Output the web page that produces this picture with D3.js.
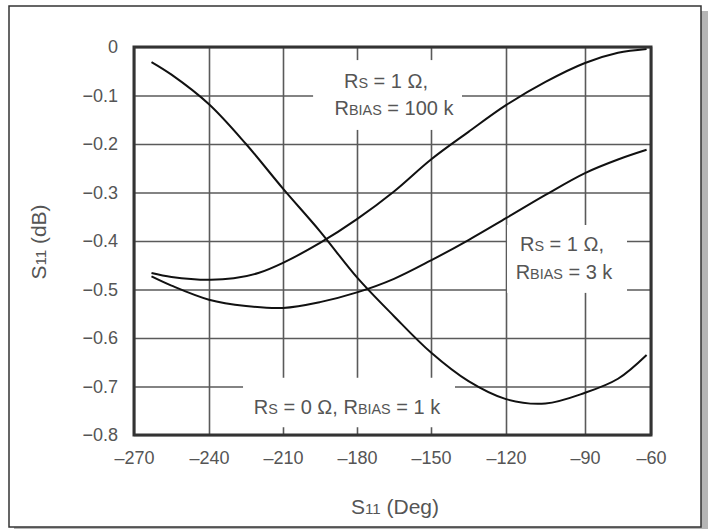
<!DOCTYPE html>
<html>
<head>
<meta charset="utf-8">
<script src="https://cdn.jsdelivr.net/npm/d3@7"></script>
<style>
  body { margin: 0; background: #fff; }
  text { font-family: "Liberation Sans", Arial, sans-serif; fill: #555; }
</style>
</head>
<body>
<div id="container"></div>
<script>
/* DATA */
const xTicks = [-270, -240, -210, -180, -150, -120, -90, -60];
const yTicks = [0, -0.1, -0.2, -0.3, -0.4, -0.5, -0.6, -0.7, -0.8];

// Rs = 0 ohm, Rbias = 1 k
const degA = [-263, -255, -240, -225, -210, -195, -180, -165, -150, -135, -120, -105, -90, -75, -62];
const valA = [-0.031, -0.057, -0.118, -0.2, -0.292, -0.38, -0.475, -0.555, -0.63, -0.689, -0.726, -0.735, -0.713, -0.684, -0.635];

// Rs = 1 ohm, Rbias = 100 k
const degB = [-263, -255, -240, -230, -220, -210, -195, -180, -165, -150, -135, -120, -105, -90, -75, -62];
const valB = [-0.466, -0.474, -0.48, -0.477, -0.466, -0.445, -0.404, -0.355, -0.298, -0.232, -0.175, -0.12, -0.072, -0.033, -0.012, -0.004];

// Rs = 1 ohm, Rbias = 3 k
const degC = [-263, -255, -240, -225, -210, -195, -180, -165, -150, -135, -120, -105, -90, -75, -62];
const valC = [-0.473, -0.492, -0.521, -0.534, -0.538, -0.526, -0.506, -0.478, -0.44, -0.398, -0.353, -0.305, -0.26, -0.232, -0.212];

/* CONSTANTS */
const width = 708, height = 529;
const plot = { left: 134, right: 651, top: 47, bottom: 435 };
// the printed grid is not evenly spaced, so the x scale is piecewise
const xRange = [134, 209, 283, 357, 431, 506, 585, 651];

const svg = d3.select("#container")
  .append("svg")
  .attr("width", width)
  .attr("height", height);

// frame + shadow
svg.append("rect")
  .attr("x", 14).attr("y", 11).attr("width", 694).attr("height", 520)
  .attr("fill", "#b5b5b5");
svg.append("rect")
  .attr("x", 9).attr("y", 6).attr("width", 692).attr("height", 521)
  .attr("fill", "#fff").attr("stroke", "#333").attr("stroke-width", 1.5);

// scales
const xScale = d3.scaleLinear().domain(xTicks).range(xRange);
const yScale = d3.scaleLinear().domain([-0.8, 0]).range([plot.bottom, plot.top]);

const minus = s => s.replace("-", "\u2013");
const fmt = d => d === 0 ? "0" : minus(d3.format(".1f")(d));

// grid
svg.append("g")
  .attr("transform", `translate(0,${plot.bottom})`)
  .call(d3.axisBottom(xScale).tickValues(xTicks).tickSize(-(plot.bottom - plot.top)).tickFormat(""))
  .call(g => g.select(".domain").remove())
  .call(g => g.selectAll("line").attr("stroke", "#5a5a5a").attr("stroke-width", 1.6));

svg.append("g")
  .attr("transform", `translate(${plot.left},0)`)
  .call(d3.axisLeft(yScale).tickValues(yTicks).tickSize(-(plot.right - plot.left)).tickFormat(""))
  .call(g => g.select(".domain").remove())
  .call(g => g.selectAll("line").attr("stroke", "#5a5a5a").attr("stroke-width", 1.6));

// white boxes behind the labels break the grid
const boxes = [
  { x0: -197.8, x1: -137.6, y0: -0.027, y1: -0.171 },
  { x0: -119.6, x1: -70.9, y0: -0.367, y1: -0.507 },
  { x0: -226.2, x1: -140.4, y0: -0.682, y1: -0.784 }
];
svg.selectAll(".box")
  .data(boxes)
  .join("rect")
  .attr("class", "box")
  .attr("x", d => xScale(d.x0))
  .attr("y", d => yScale(d.y0))
  .attr("width", d => xScale(d.x1) - xScale(d.x0))
  .attr("height", d => yScale(d.y1) - yScale(d.y0))
  .attr("fill", "#fff");

// tick labels
svg.append("g")
  .attr("transform", `translate(${plot.left},0)`)
  .call(d3.axisLeft(yScale).tickValues(yTicks).tickSize(0).tickPadding(16).tickFormat(fmt))
  .call(g => g.select(".domain").remove())
  .call(g => g.selectAll("text").attr("font-size", 18).attr("font-family", null).attr("fill", "#555"));

svg.append("g")
  .attr("transform", `translate(0,${plot.bottom})`)
  .call(d3.axisBottom(xScale).tickValues(xTicks).tickSize(0).tickPadding(16).tickFormat(d => minus(String(d))))
  .call(g => g.select(".domain").remove())
  .call(g => g.selectAll("text").attr("font-size", 18).attr("font-family", null).attr("fill", "#555"));

// curves
const lineGen = d3.line()
  .x(d => xScale(d[0]))
  .y(d => yScale(d[1]))
  .curve(d3.curveCatmullRom);

const series = [
  d3.zip(degA, valA),
  d3.zip(degB, valB),
  d3.zip(degC, valC)
];
svg.selectAll(".curve")
  .data(series)
  .join("path")
  .attr("class", "curve")
  .attr("fill", "none")
  .attr("stroke", "#111")
  .attr("stroke-width", 2)
  .attr("d", d => lineGen(d));

// plot border
svg.append("rect")
  .attr("x", plot.left).attr("y", plot.top)
  .attr("width", plot.right - plot.left).attr("height", plot.bottom - plot.top)
  .attr("fill", "none").attr("stroke", "#333").attr("stroke-width", 3);

// text with a full size R and small caps after it
function rich(g, x, y, parts, size) {
  const t = g.append("text")
    .attr("x", x).attr("y", y)
    .attr("text-anchor", "middle")
    .attr("font-size", size);
  parts.forEach(p => {
    t.append("tspan").attr("font-size", p[1] ? size * 0.72 : size).text(p[0]);
  });
  return t;
}

rich(svg, 386, 88, [["R", 0], ["S", 1], [" = 1 \u03A9,", 0]], 20);
rich(svg, 394, 115, [["R", 0], ["BIAS", 1], [" = 100 k", 0]], 20);

rich(svg, 562, 251, [["R", 0], ["S", 1], [" = 1 \u03A9,", 0]], 20);
rich(svg, 564, 279, [["R", 0], ["BIAS", 1], [" = 3 k", 0]], 20);

rich(svg, 347, 414, [["R", 0], ["S", 1], [" = 0 \u03A9, ", 0], ["R", 0], ["BIAS", 1], [" = 1 k", 0]], 20);

// axis titles
rich(svg, 395, 514, [["S", 0], ["11", 1], [" (Deg)", 0]], 21);

rich(svg, 0, 0, [["S", 0], ["11", 1], [" (dB)", 0]], 21)
  .attr("transform", "translate(46,242) rotate(-90)");
</script>
</body>
</html>
